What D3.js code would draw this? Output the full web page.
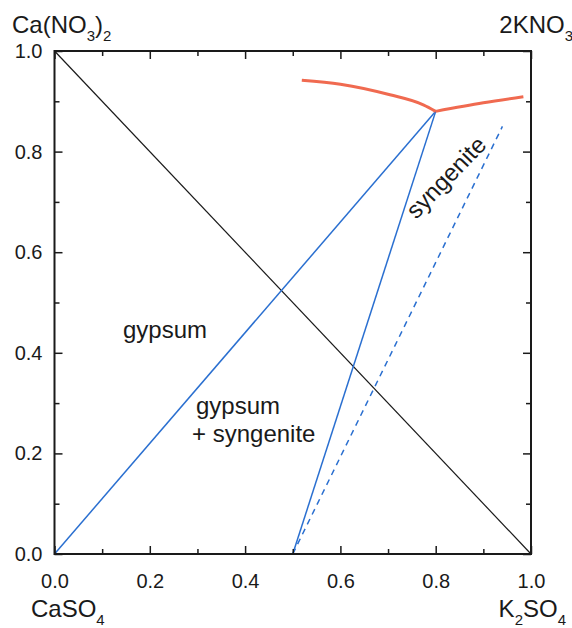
<!DOCTYPE html>
<html><head><meta charset="utf-8">
<script src="https://cdn.jsdelivr.net/npm/d3@7"></script>
<style>body{margin:0;background:#fff;} svg{display:block;} text{font-family:"Liberation Sans",Arial,sans-serif;fill:#1a1a1a;}</style>
</head><body><svg id="c" width="572" height="628"></svg>
<script>
const diagonal = [[0,1],[1,0]];
const gypsumBoundary = [[0,0],[0.8,0.88]];
const syngeniteBoundary = [[0.5,0],[0.8,0.88]];
const dashedLine = [[0.5,0],[0.94,0.85]];
const solubilityLeft = [[0.519,0.942],[0.6,0.934],[0.704,0.913],[0.774,0.893],[0.8,0.88]];
const solubilityRight = [[0.8,0.88],[0.9,0.897],[0.984,0.909]];
const tickValues = [0,0.2,0.4,0.6,0.8,1.0];
const minorTicks = [0.1,0.3,0.5,0.7,0.9];

const svg = d3.select("#c");
const x = d3.scaleLinear().domain([0,1]).range([54.5,531]);
const y = d3.scaleLinear().domain([0,1]).range([554,51]);
const fmt = d3.format(".1f");

const line = d3.line().x(d=>x(d[0])).y(d=>y(d[1]));
const curve = d3.line().x(d=>x(d[0])).y(d=>y(d[1])).curve(d3.curveMonotoneX);

svg.append("path").attr("d", line(diagonal)).attr("fill","none").attr("stroke","#1a1a1a").attr("stroke-width",1.2);
svg.append("path").attr("d", line(gypsumBoundary)).attr("fill","none").attr("stroke","#2a6fd0").attr("stroke-width",1.5);
svg.append("path").attr("d", line(syngeniteBoundary)).attr("fill","none").attr("stroke","#2a6fd0").attr("stroke-width",1.5);
svg.append("path").attr("d", line(dashedLine)).attr("fill","none").attr("stroke","#2a6fd0").attr("stroke-width",1.5).attr("stroke-dasharray","6,5");
svg.append("path").attr("d", curve(solubilityLeft)).attr("fill","none").attr("stroke","#f06a50").attr("stroke-width",3);
svg.append("path").attr("d", curve(solubilityRight)).attr("fill","none").attr("stroke","#f06a50").attr("stroke-width",3);

// axes
const axStyle = g => { g.select(".domain").remove(); g.selectAll("line").attr("stroke","#1a1a1a").attr("stroke-width",1.5); g.selectAll("text").style("font-size","20px").style("font-family","Liberation Sans, Arial, sans-serif").attr("fill","#1a1a1a"); };
svg.append("g").attr("transform",`translate(0,${y(0)})`).call(d3.axisBottom(x).tickValues(tickValues).tickFormat(fmt).tickSizeInner(-8).tickPadding(20)).call(axStyle);
svg.append("g").attr("transform",`translate(0,${y(0)})`).call(d3.axisBottom(x).tickValues(minorTicks).tickFormat("").tickSizeInner(-5)).call(axStyle);
svg.append("g").attr("transform",`translate(${x(0)},0)`).call(d3.axisLeft(y).tickValues(tickValues).tickFormat(fmt).tickSizeInner(-8).tickPadding(12)).call(axStyle);
svg.append("g").attr("transform",`translate(${x(0)},0)`).call(d3.axisLeft(y).tickValues(minorTicks).tickFormat("").tickSizeInner(-5)).call(axStyle);
svg.append("g").attr("transform",`translate(0,${y(1)})`).call(d3.axisTop(x).tickValues(tickValues).tickFormat("").tickSizeInner(-8)).call(axStyle);
svg.append("g").attr("transform",`translate(0,${y(1)})`).call(d3.axisTop(x).tickValues(minorTicks).tickFormat("").tickSizeInner(-5)).call(axStyle);
svg.append("g").attr("transform",`translate(${x(1)},0)`).call(d3.axisRight(y).tickValues(tickValues).tickFormat("").tickSizeInner(-8)).call(axStyle);
svg.append("g").attr("transform",`translate(${x(1)},0)`).call(d3.axisRight(y).tickValues(minorTicks).tickFormat("").tickSizeInner(-5)).call(axStyle);
svg.append("rect").attr("x",x(0)).attr("y",y(1)).attr("width",x(1)-x(0)).attr("height",y(0)-y(1)).attr("fill","none").attr("stroke","#1a1a1a").attr("stroke-width",2);

// corner labels
function chem(parts, xx, yy, anchor){
  const t = svg.append("text").attr("x",xx).attr("y",yy).attr("text-anchor",anchor).style("font-size","24px");
  parts.forEach(p=>{
    if(p.sub) t.append("tspan").attr("dy",8).style("font-size","15px").text(p.t);
    else t.append("tspan").attr("dy",p.back?-8:0).text(p.t);
  });
  return t;
}
chem([{t:"Ca(NO"},{t:"3",sub:true},{t:")",back:true},{t:"2",sub:true}], 12, 33, "start");
chem([{t:"2KNO"},{t:"3",sub:true}], 573, 33, "end");
chem([{t:"CaSO"},{t:"4",sub:true}], 31, 617, "start");
chem([{t:"K"},{t:"2",sub:true},{t:"SO",back:true},{t:"4",sub:true}], 566, 617, "end");

// region labels
svg.append("text").attr("x",123).attr("y",338).style("font-size","24px").text("gypsum");
svg.append("text").attr("x",196).attr("y",414).style("font-size","24px").text("gypsum");
svg.append("text").attr("x",192).attr("y",442).style("font-size","24px").text("+ syngenite");
svg.append("text").attr("transform","translate(452,183) rotate(-46)").attr("text-anchor","middle").style("font-size","24px").text("syngenite");
</script></body></html>
